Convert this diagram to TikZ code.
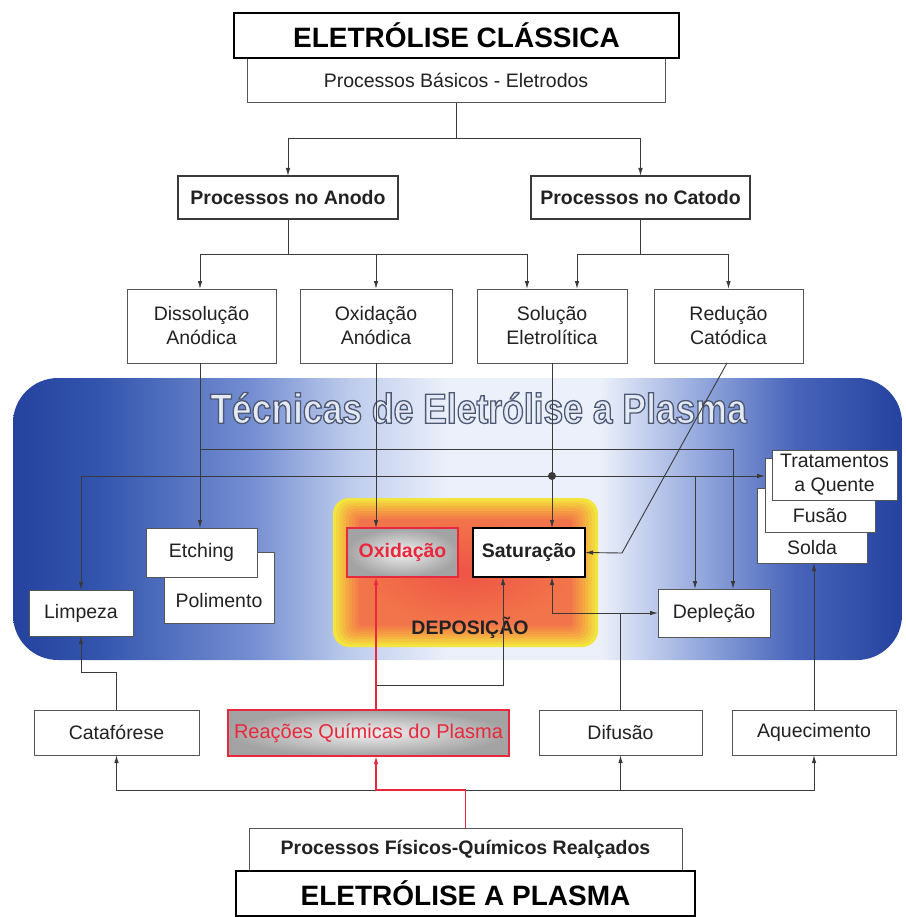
\documentclass[tikz,border=0pt]{standalone}
\usepackage{fontspec}
\setmainfont{Liberation Sans}
\newfontfamily\titfont[FakeStretch=0.845]{Liberation Sans}
\usetikzlibrary{arrows.meta}
\definecolor{lc}{HTML}{3A3A3A}
\definecolor{bc}{HTML}{555555}
\definecolor{tc}{HTML}{222222}
\definecolor{redl}{HTML}{E8283C}
\definecolor{bl1}{RGB}{36,66,158}
\definecolor{bl1b}{RGB}{52,86,174}
\definecolor{bl2}{RGB}{118,143,210}
\definecolor{bl3}{RGB}{190,204,236}
\definecolor{bw}{RGB}{236,240,250}
\definecolor{br2}{RGB}{150,170,222}
\definecolor{br3}{RGB}{72,100,186}
\definecolor{dr1}{HTML}{EE5446}
\definecolor{dr2}{HTML}{F2744A}
\definecolor{dor}{HTML}{F6A642}
\definecolor{dy}{HTML}{F2E63E}
\definecolor{tin}{HTML}{E4E9F4}
\pgfdeclarehorizontalshading{band}{100bp}{color(0bp)=(bl1); color(25bp)=(bl1); color(30bp)=(bl1b); color(38.5bp)=(bl2); color(44bp)=(bl3); color(49.5bp)=(bw); color(58bp)=(bw); color(63.5bp)=(br2); color(69bp)=(br3); color(75bp)=(bl1); color(100bp)=(bl1)}
\newcommand{\bx}[6]{\node[#1,minimum width={(#4-#2)*1pt},minimum height={(#5-#3)*1pt}] (#6) at ({(#2+#4)/2},{(#3+#5)/2})}
\newcommand{\outlinetext}[1]{\special{pdf:literal direct 0.30 0.35 0.46 RG 2 Tr 1.3 w}#1\special{pdf:literal direct 0 Tr}}
\tikzset{
  box/.style={draw=bc, line width=1pt, fill=white, inner sep=0pt, outer sep=0pt, align=center, text=tc, font=\fontsize{19.5}{24}\selectfont},
  bbox/.style={box, draw=lc, line width=1.4pt, font=\fontsize{19.5}{24}\selectfont\bfseries},
  mainbox/.style={box, draw=black, line width=2.6pt, text=black, font=\fontsize{28}{30}\selectfont\bfseries},
  gbox/.style={box, draw=redl, line width=1.6pt, inner color=gray!12, outer color=gray!72, text=redl},
  txt/.style={inner sep=0pt, outer sep=0pt, text=tc, font=\fontsize{19.5}{24}\selectfont},
  ttl/.style={inner sep=0pt, font=\titfont\bfseries\fontsize{42}{46}\selectfont},
  con/.style={draw=lc, line width=0.9pt},
  arr/.style={con, -{Latex[length=8pt,width=4.5pt]}},
  rcon/.style={draw=redl, line width=1.2pt},
  rarr/.style={rcon, -{Latex[length=8pt,width=4.5pt]}}
}
\begin{document}
\begin{tikzpicture}[x=1pt,y=-1pt]
\useasboundingbox (0,0) rectangle (905,917);
% background band
\shade[shading=band, rounded corners=45pt] (13,378) rectangle (902,660);
\node[ttl, text=tin] (title) at (478.5,408) {\outlinetext{Técnicas de Eletrólise a Plasma}};
% deposition panel: yellow glow fading into orange-red
\foreach \i in {0,...,4} {
  \pgfmathtruncatemacro\p{\i*25}
  \pgfmathsetmacro\rc{max(16-\i*1.5,3)}
  \fill[dor!\p!dy, rounded corners=\rc pt] ({333+\i*3.2},{498+\i*2.6}) rectangle ({598-\i*3.2},{647-\i*2.6});
}
\foreach \i in {5,...,8} {
  \pgfmathtruncatemacro\p{(\i-4)*25}
  \pgfmathsetmacro\rc{max(16-\i*1.5,3)}
  \fill[dr2!\p!dor, rounded corners=\rc pt] ({333+\i*3.2},{498+\i*2.6}) rectangle ({598-\i*3.2},{647-\i*2.6});
}
\shade[inner color=dr1, outer color=dr2, rounded corners=4pt] (361,521) rectangle (570,624);

% top
\bx{box}{247}{58}{665}{103}{basic}{Processos Básicos - Eletrodos};
\bx{mainbox}{234}{13}{679}{58}{top}{ELETRÓLISE CLÁSSICA};
\bx{bbox}{178}{176}{398}{219}{anodo}{Processos no Anodo};
\bx{bbox}{531}{176}{750}{219}{catodo}{Processos no Catodo};
\bx{box}{127}{289}{276}{363}{diss}{Dissolução\\Anódica};
\bx{box}{300}{289}{452}{363}{oxan}{Oxidação\\Anódica};
\bx{box}{477}{289}{627}{363}{solu}{Solução\\Eletrolítica};
\bx{box}{654}{289}{803}{363}{redu}{Redução\\Catódica};
% band contents
\bx{box}{164}{552}{274}{623}{poli}{};
\node[txt] (politxt) at (219,601) {Polimento};
\bx{box}{146}{528}{257}{577}{etch}{Etching};
\bx{box}{29}{590}{133}{636}{limp}{Limpeza};
\bx{gbox, font=\fontsize{19.5}{24}\selectfont\bfseries}{347}{528}{458}{577}{oxid}{Oxidação};
\bx{bbox, draw=black}{473}{528}{585}{577}{satu}{Saturação};
\node[txt, font=\fontsize{19.5}{24}\selectfont\bfseries] (depo) at (470,628) {DEPOSIÇÃO};
\bx{box}{658}{589}{770}{637}{depl}{Depleção};
\bx{box}{757}{488}{867}{563}{solda}{};
\node[txt] (soldatxt) at (812,548) {Solda};
\bx{box}{765}{458}{875}{532}{fusao}{};
\node[txt] (fusaotxt) at (820,516) {Fusão};
\bx{box}{772}{450}{897}{500}{trat}{Tratamentos\\a Quente};
% bottom
\bx{box}{34}{710}{199}{755}{cata}{Catafórese};
\bx{gbox, font=\fontsize{20}{24}\selectfont}{228}{710}{509}{756}{reac}{Reações Químicas do Plasma};
\bx{box}{539}{710}{702}{755}{difu}{Difusão};
\bx{box}{732}{710}{896}{755}{aque}{Aquecimento};
\bx{box, font=\fontsize{19.5}{24}\selectfont\bfseries}{249}{828}{682}{871}{pfq}{Processos Físicos-Químicos Realçados};
\bx{mainbox}{236}{871}{695}{916}{plasma}{ELETRÓLISE A PLASMA};

% coordinates
\coordinate (dot) at (552,476);
\coordinate (d1) at (200,449);
\coordinate (dA) at ([xshift=-19pt]depl.north);
\coordinate (dB) at ([xshift=19pt]depl.north);
\coordinate (rbend) at (622,553);
\coordinate (rx) at (376,790);
\coordinate (gy) at (376,685);
\coordinate (dfy) at (620.5,613);

% top connectors
\draw[arr] (basic.south) -- ++(0,35) -| (anodo.north);
\draw[arr] (basic.south) -- ++(0,35) -| (catodo.north);
\draw[arr] (anodo.south) -- ++(0,35) -| ([xshift=-1.5pt]diss.north);
\draw[arr] (anodo.south) -- ++(0,35) -| (oxan.north);
\draw[arr] (anodo.south) -- ++(0,35) -| ([xshift=-25pt]solu.north);
\draw[arr] (catodo.south) -- ++(0,35) -| ([xshift=25pt]solu.north);
\draw[arr] (catodo.south) -- ++(0,35) -| (redu.north);
% band connectors
\draw[arr] ([xshift=-1.5pt]diss.south) -- ([xshift=-1.5pt]diss.south |- etch.north);
\draw[arr] (d1) -| (dB);
\draw[arr] (oxan.south) -- (oxan.south |- oxid.north);
\draw[arr] (solu.south) -- (solu.south |- satu.north);
\draw[arr] (dot) -| (limp.north);
\draw[arr] (dot) -- (dot -| fusao.west);
\draw[arr] (dot -| dA) -- (dA);
\fill[lc] (dot) circle (4);
\draw[arr] ([xshift=-1.5pt]redu.south) -- (rbend) -- (satu.east);
% bottom connectors
\draw[arr] (pfq.north |- rx) -| (cata.south);
\draw[arr] (pfq.north |- rx) -| (difu.south);
\draw[arr] (pfq.north |- rx) -| (aque.south);
\draw[arr] (cata.north) -- ++(0,-38) -| (limp.south);
\draw[con] (difu.north) -- (dfy);
\draw[arr] (dfy) -| (dot |- satu.south);
\draw[arr] (dfy) -- (depl.west);
\draw[arr] (aque.north) -- (aque.north |- solda.south);
\draw[arr] (gy) -| ([xshift=-26pt]satu.south);
\draw[rarr] (pfq.north) |- (rx) -- (reac.south -| rx);
\draw[rarr] (reac.north -| rx) -- (oxid.south -| rx);
\end{tikzpicture}
\end{document}
